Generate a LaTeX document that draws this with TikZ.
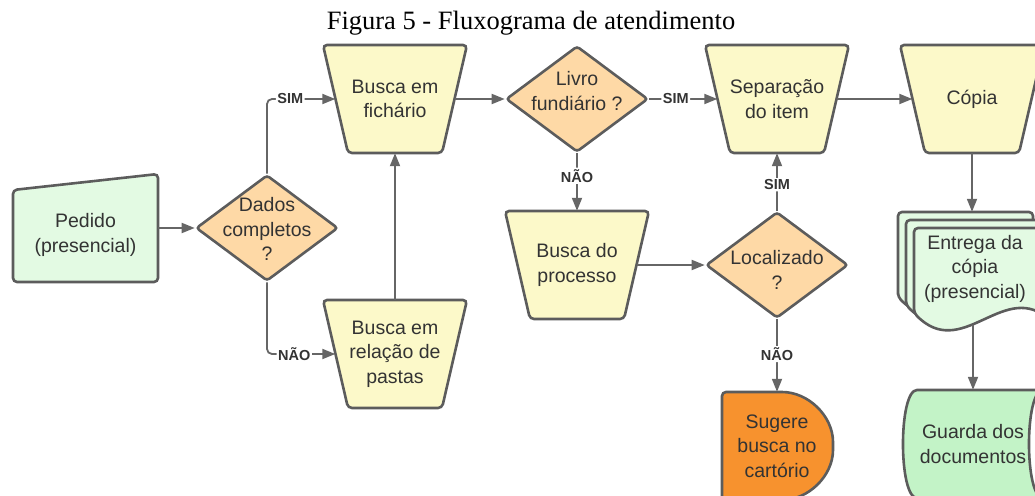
\documentclass[tikz,border=0pt]{standalone}
\usepackage{fontspec}
\setmainfont{Liberation Sans}
\newfontfamily\fontetitulo{Liberation Serif}
\usetikzlibrary{shapes.geometric,arrows.meta}

\definecolor{borda}{RGB}{92,92,92}
\definecolor{conector}{RGB}{102,102,102}
\definecolor{texto}{RGB}{51,51,51}
\definecolor{amarelo}{RGB}{252,249,201}
\definecolor{laranja}{RGB}{254,217,166}
\definecolor{laranjaforte}{RGB}{247,146,46}
\definecolor{verdeclaro}{RGB}{227,250,227}
\definecolor{verdeforte}{RGB}{195,243,199}

\newcommand\fontecaixa{\fontsize{19.5}{24.5}\selectfont}
\newcommand\fonterotulo{\bfseries\fontsize{14.5}{16}\selectfont}

% operacao manual: nome, x, y, texto
\newcommand\operacao[4]{%
    \filldraw[shapeline, fill=amarelo] (#2-72,#3-54) -- (#2+72,#3-54) -- (#2+47,#3+54) -- (#2-47,#3+54) -- cycle;
    \node[txt, minimum width=144pt, minimum height=108pt] (#1) at (#2,#3) {#4};}

\begin{document}
\begin{tikzpicture}[x=1pt,y=-1pt,
    shapeline/.style={draw=borda, line width=2.6pt, rounded corners=4pt},
    decisao/.style={shapeline, diamond, minimum width=142pt, minimum height=106pt,
        inner sep=0pt, fill=laranja, rounded corners=3pt},
    txt/.style={align=center, font=\fontecaixa, text=texto, inner sep=0pt},
    fluxo/.style={draw=conector, line width=1.8pt, rounded corners=5pt, -{Triangle[length=13pt,width=10pt]}},
    rotulo/.style={font=\fonterotulo, fill=white, inner sep=1.5pt, text=black!80}]
    \useasboundingbox (0,0) rectangle (1035,495);
    \clip (0,0) rectangle (1035,495);

    \node[font=\fontetitulo\fontsize{26.5}{30}\selectfont, anchor=base] (titulo) at (531,30) {Figura 5 - Fluxograma de atendimento};

    % entrada manual
    \filldraw[shapeline, fill=verdeclaro] (13,282) -- (13,190) -- (158,174) -- (158,282) -- cycle;
    \node[txt, minimum width=145pt, minimum height=95pt] (pedido) at (85.5,235) {Pedido\\(presencial)};

    % decisoes
    \node[decisao] (dados) at (267,228) {};
    \node[txt] (dadost) at (267,229) {Dados\\completos\\?};
    \node[decisao] (livro) at (577,99) {};
    \node[txt] (livrot) at (577,91) {Livro\\fundiário ?};
    \node[decisao] (localizado) at (777,265) {};
    \node[txt] (localizadot) at (777,270) {Localizado\\?};

    % operacoes manuais
    \operacao{fichario}{395}{99}{Busca em\\fichário}
    \operacao{relacao}{395}{354}{Busca em\\relação de\\pastas}
    \operacao{separacao}{777}{99}{Separação\\do item}
    \operacao{copia}{972}{99}{Cópia}
    \operacao{processo}{577}{265}{Busca do\\processo}

    % atraso
    \filldraw[shapeline, fill=laranjaforte] (722,500) -- (722,392) -- (778,392)
        .. controls (808.4,392) and (833,416.2) .. (833,446)
        .. controls (833,475.8) and (808.4,500) .. (778,500) -- cycle;
    \node[txt, minimum width=111pt, minimum height=108pt] (sugere) at (777,446) {Sugere\\busca no\\cartório};

    % documentos
    \foreach \desl in {0,8,16}
        \filldraw[shapeline, fill=verdeclaro] (898+\desl,297+\desl) -- (898+\desl,212+\desl)
            -- (1033+\desl,212+\desl) -- (1033+\desl,303+\desl)
            .. controls (985.75+\desl,267+\desl) and (945.25+\desl,345+\desl) .. (898+\desl,297+\desl) -- cycle;
    \node[txt, minimum width=151pt, minimum height=113pt] (entrega) at (975,268.5) {Entrega da\\cópia\\(presencial)};

    % dados armazenados
    \filldraw[shapeline, sharp corners, fill=verdeforte] (917,390) -- (1043,390)
        .. controls (1024.3,390) and (1024.3,498) .. (1043,498) -- (917,498)
        .. controls (898.3,498) and (898.3,390) .. (917,390) -- cycle;
    \node[txt, minimum width=120pt, minimum height=108pt] (guarda) at (973,444) {Guarda dos\\documentos};

    % conectores
    \draw[fluxo] (pedido.east |- dados) -- (dados);
    \draw[fluxo] (dados.north) |- node[rotulo, pos=0.67] (sim1) {SIM} ([xshift=12.5pt]fichario.west);
    \draw[fluxo] (dados.south) |- node[rotulo, pos=0.7] (nao1) {NÃO} ([xshift=12.5pt]relacao.west);
    \draw[fluxo] (relacao.north) -- (fichario.south);
    \draw[fluxo] ([xshift=-12.5pt]fichario.east) -- (livro);
    \draw[fluxo] (livro) -- node[rotulo, pos=0.39] (sim2) {SIM} ([xshift=12.5pt]separacao.west);
    \draw[fluxo] (livro) -- node[rotulo, pos=0.39] (nao2) {NÃO} (processo.north);
    \draw[fluxo] ([xshift=-12.5pt]processo.east) -- (localizado);
    \draw[fluxo] (localizado) -- node[rotulo, pos=0.45] (sim3) {SIM} (separacao.south);
    \draw[fluxo] (localizado) -- node[rotulo, pos=0.48] (nao3) {NÃO} (sugere);
    \draw[fluxo] ([xshift=-12.5pt]separacao.east) -- ([xshift=12.5pt]copia.west);
    \draw[fluxo] (copia.south) -- (copia.south |- entrega.north);
    \draw[fluxo] (entrega.south -| guarda) -- (guarda);
\end{tikzpicture}
\end{document}
